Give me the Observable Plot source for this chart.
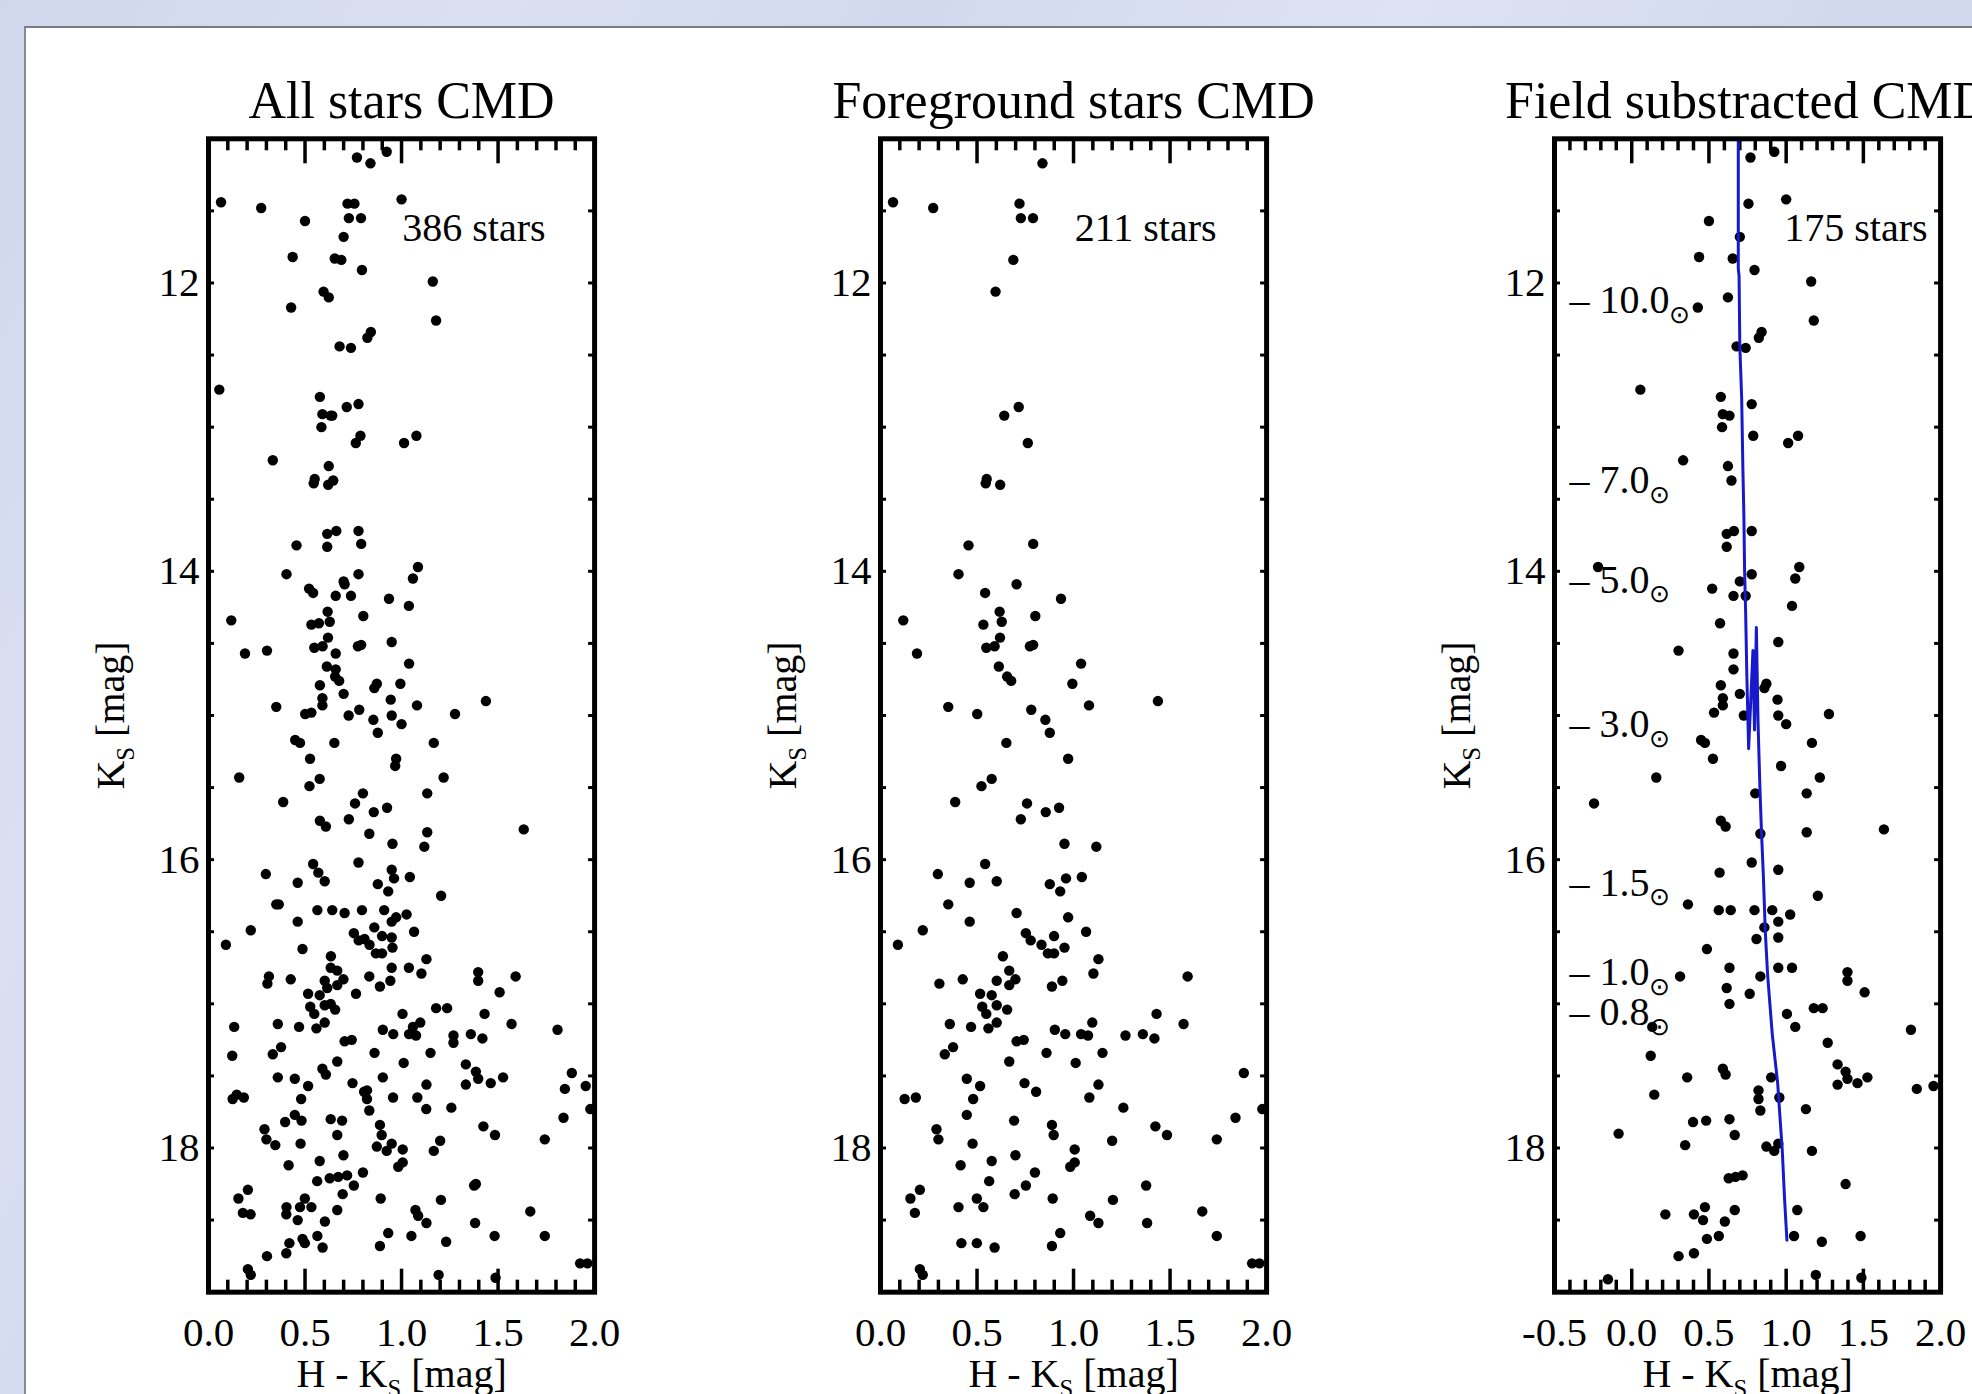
<!DOCTYPE html>
<html><head><meta charset="utf-8">
<script src="https://cdn.jsdelivr.net/npm/d3@7"></script>
<script src="https://cdn.jsdelivr.net/npm/@observablehq/plot@0.6"></script>
<style>
html,body{margin:0;padding:0;}
body{width:1972px;height:1394px;overflow:hidden;position:relative;
 background:linear-gradient(118deg,#d0d7ec 0%,#dae0f1 18%,#d2d9ee 34%,#dde3f3 52%,#d1d8ed 70%,#d9dff1 86%,#d2d9ee 100%);}
#sheet{position:absolute;left:24px;top:26px;width:1990px;height:1400px;background:#fff;border-top:2px solid #767b87;border-left:2px solid #858a96;}
.panel{position:absolute;top:40px;}
</style></head><body>
<div id="sheet"></div>
<div id="p1" class="panel"></div>
<div id="p2" class="panel"></div>
<div id="p3" class="panel"></div>
<script>
// ---------- data (H-Ks colour, Ks magnitude) ----------
// foreground stars (middle panel)
const fgHK = [0.839,0.065,0.273,0.72,0.727,0.79,0.688,0.596,0.716,0.641,0.763,0.55,0.545,0.62,
0.456,0.791,0.404,0.705,0.542,0.935,0.617,0.802,0.118,0.533,0.628,0.619,0.548,0.591,0.774,0.791,0.189,1.039,0.613,0.656,0.677,0.994,0.351,1.08,1.437,0.501,0.781,0.854,0.877,0.652,0.972,0.576,0.523,0.387,0.759,0.856,0.925,0.727,0.953,1.118,0.542,0.297,0.462,0.602,0.877,0.961,1.043,0.931,0.351,0.705,0.972,0.462,0.219,0.753,0.899,1.065,0.09,0.778,0.834,0.953,
0.867,0.899,0.634,1.129,0.305,0.426,0.602,0.667,0.699,0.667,0.888,0.942,1.103,1.591,0.516,0.576,0.527,0.548,0.602,0.656,0.359,0.469,0.559,0.602,0.903,0.957,1.039,1.075,1.097,1.269,1.359,1.419,1.43,1.57,0.705,0.742,0.333,0.376,0.86,1.15,0.667,1.011,0.447,0.516,0.746,0.806,1.129,1.882,0.125,0.183,0.48,1.082,1.258,0.447,0.692,0.888,0.897,1.424,1.484,1.839,1.978,0.29,0.30,0.477,1.2,1.742,1.006,0.699,0.576,0.415,0.983,1.006,0.8,0.563,0.753,1.376,0.204,0.155,0.499,0.695,0.892,1.204,0.178,0.404,0.533,1.667,1.086,1.129,1.381,0.931,1.742,0.419,0.499,0.591,0.888,0.204,0.219,1.925,1.963];
const fgKs = [11.17,11.44,11.48,11.45,11.55,11.55,11.84,12.06,12.86,12.92,13.11,13.36,13.39,13.40,
13.82,13.81,14.02,14.09,14.15,14.19,14.28,14.31,14.34,14.37,14.35,14.46,14.53,14.52,14.52,14.51,14.57,14.64,14.66,14.73,14.76,14.78,14.94,14.93,14.90,14.99,14.96,15.03,15.12,15.19,15.30,15.44,15.49,15.60,15.61,15.67,15.64,15.72,15.89,15.91,16.03,16.10,16.16,16.15,16.17,16.13,16.12,16.22,16.31,16.37,16.40,16.43,16.49,16.51,16.53,16.50,16.59,16.56,16.59,16.61,
16.65,16.65,16.67,16.69,16.86,16.83,16.84,16.77,16.83,16.87,16.88,16.84,16.79,16.81,16.93,16.94,17.02,17.07,17.01,17.04,17.14,17.16,17.17,17.13,17.18,17.21,17.21,17.22,17.13,17.22,17.21,17.24,17.07,17.14,17.26,17.25,17.35,17.30,17.34,17.34,17.40,17.41,17.52,17.57,17.55,17.61,17.56,17.48,17.66,17.65,17.66,17.65,17.72,17.77,17.81,17.84,17.91,17.85,17.91,17.79,17.73,17.87,17.94,17.97,17.95,17.94,18.01,18.05,18.09,18.12,18.13,18.10,18.17,18.23,18.26,18.26,18.29,18.35,18.35,18.32,18.35,18.36,18.45,18.41,18.41,18.44,18.47,18.52,18.52,18.59,18.61,18.66,18.66,18.69,18.68,18.84,18.88,18.80,18.80];
// field-subtracted (cluster) stars, right panel
const clHK = [0.769,0.923,0.756,1.0,0.5,0.7,0.436,0.654,0.795,1.162,0.623,0.428,1.179,0.841,0.823,0.679,0.738,0.056,0.577,0.777,0.59,0.633,0.585,0.787,1.013,1.077,0.333,0.623,0.646,
0.615,0.662,0.615,0.777,-0.218,0.777,0.7,1.085,1.059,0.521,0.659,0.738,1.038,0.572,0.949,0.303,0.659,0.659,0.577,0.872,0.859,0.7,0.59,0.59,0.944,0.533,0.726,0.949,1.0,1.277,0.449,0.474,0.526,1.167,0.967,0.159,1.218,0.8,1.133,-0.244,0.577,0.608,0.833,1.133,1.633,0.777,0.949,0.569,1.205,0.364,0.564,0.641,0.795,0.91,1.026,0.949,0.859,0.808,0.949,0.487,
0.949,1.038,0.313,0.633,0.833,0.615,0.764,1.397,1.397,1.508,0.633,1.005,1.179,1.236,0.133,1.059,1.808,1.269,0.123,0.359,0.59,0.608,0.903,1.333,1.385,1.397,1.333,1.462,1.526,1.846,1.954,0.146,0.821,0.821,0.956,0.833,1.128,0.397,0.482,0.633,-0.085,0.667,0.346,0.872,0.923,0.949,1.167,0.628,0.672,0.718,1.385,0.218,0.403,0.474,0.462,0.667,1.072,0.603,0.487,0.564,1.051,1.231,1.482,0.303,0.403,-0.154,1.192,1.487];
const clKs = [11.13,11.09,11.45,11.42,11.57,11.68,11.82,11.83,11.91,11.99,12.10,12.17,12.26,12.34,12.38,12.44,12.45,12.74,12.79,12.84,12.91,12.92,13.0,13.06,13.11,13.06,13.23,13.27,13.37,
13.74,13.72,13.83,13.72,13.97,14.02,14.07,13.97,14.05,14.12,14.17,14.17,14.24,14.36,14.49,14.55,14.57,14.68,14.79,14.78,14.81,14.85,14.88,14.93,14.89,14.98,15.0,15.0,15.06,14.99,15.17,15.19,15.30,15.19,15.35,15.43,15.43,15.54,15.54,15.61,15.73,15.77,15.82,15.81,15.79,16.02,16.07,16.09,16.25,16.31,16.35,16.35,16.35,16.35,16.38,16.43,16.47,16.55,16.54,16.62,
16.75,16.75,16.81,16.75,16.81,16.89,16.93,16.78,16.84,16.92,17.0,17.07,17.03,17.03,17.16,17.16,17.18,17.27,17.36,17.51,17.45,17.49,17.51,17.42,17.47,17.52,17.56,17.55,17.51,17.59,17.57,17.63,17.60,17.66,17.65,17.74,17.73,17.82,17.81,17.80,17.90,17.91,17.98,17.99,18.02,17.97,18.02,18.21,18.20,18.19,18.25,18.46,18.46,18.41,18.50,18.43,18.43,18.51,18.63,18.61,18.61,18.65,18.61,18.75,18.73,18.91,18.88,18.90];
// isochrone
const isoHK = [0.69,0.69,0.695,0.70,0.712,0.72,0.726,0.731,0.738,0.745,0.757,0.785,0.795,0.807,0.818,0.83,0.84,0.852,0.865,0.88,0.91,0.945,0.975,0.99,1.005];
const isoKs = [11.0,11.9,11.95,12.44,12.8,13.3,13.6,14.0,14.3,14.7,15.23,14.55,15.1,14.39,15.05,15.5,15.8,16.1,16.5,16.8,17.21,17.55,18.02,18.36,18.64];
// masses along the isochrone
const massLabels = ["10.0","7.0","5.0","3.0","1.5","1.0","0.8"];
const massKs = [12.12,13.37,14.06,15.06,16.16,16.78,17.06];
// text
const titles = ["All stars CMD","Foreground stars CMD","Field substracted CMD"];
const countLabels = ["386 stars","211 stars","175 stars"];
const yTickValues = [12,14,16,18];
const xTicksA = [0.0,0.5,1.0,1.5,2.0];
const xTicksB = [-0.5,0.0,0.5,1.0,1.5,2.0];
const yLabel = "K{S} [mag]";
const xLabel = "H - K{S} [mag]";

const FONT = "'Liberation Serif', 'Times New Roman', serif";
const W = 386.1, H = 1153.4, mL = 150, mT = 98.3, mB = 102.3;

function subscripts(svg, base) {
  d3.select(svg).selectAll("text").each(function() {
    const s = this.textContent;
    if (!s.includes("{")) return;
    const parts = s.split(/\{([^}]*)\}/);
    const t = d3.select(this); t.text(null);
    let shifted = false;
    parts.forEach((p, i) => {
      if (!p) return;
      if (i % 2) {
        t.append("tspan").attr("font-size", base * 0.62).attr("dy", base * 0.24).text(p);
        shifted = true;
      } else {
        const sp = t.append("tspan").text(p);
        if (shifted) { sp.attr("dy", -base * 0.24); shifted = false; }
      }
    });
  });
}

function panel({el, frameLeft, xDomain, xMajor, hk, ks, title, count, countDx, mR, extra = []}) {
  const lo = Math.round(xDomain[0] * 10), hi = Math.round(xDomain[1] * 10);
  const xMinor = d3.range(lo, hi + 1).filter(i => i % 5 !== 0).map(i => i / 10);
  const yMinor = d3.range(22, 39).map(i => i / 2);
  const tw = 3.5;
  const txt = {fill: "black", fontFamily: FONT};
  const svg = Plot.plot({
    width: mL + W + mR, height: mT + H + mB,
    marginLeft: mL, marginRight: mR, marginTop: mT, marginBottom: mB,
    x: {domain: xDomain, axis: null},
    y: {domain: [11, 19], reverse: true, axis: null},
    style: {background: "transparent", maxWidth: "none", overflow: "visible", fontFamily: FONT},
    marks: [
      Plot.ruleX(xMinor, {x: d => d, insetBottom: H - 12, strokeWidth: tw, stroke: "black"}),
      Plot.ruleX(xMajor, {x: d => d, insetBottom: H - 25, strokeWidth: tw, stroke: "black"}),
      Plot.ruleX(xMinor, {x: d => d, insetTop: H - 12, strokeWidth: tw, stroke: "black"}),
      Plot.ruleX(xMajor, {x: d => d, insetTop: H - 23, strokeWidth: tw, stroke: "black"}),
      Plot.ruleY(yMinor, {y: d => d, insetRight: W - 6, strokeWidth: 3, stroke: "black"}),
      Plot.ruleY(yMinor, {y: d => d, insetLeft: W - 6, strokeWidth: 3, stroke: "black"}),
      Plot.dot(d3.range(hk.length), {x: i => hk[i], y: i => ks[i], r: 5.2, fill: "black", clip: true}),
      ...extra,
      Plot.frame({stroke: "black", strokeWidth: 5}),
      Plot.text([title], {frameAnchor: "top", lineAnchor: "bottom", dy: -21, fontSize: 52, ...txt}),
      Plot.text([count], {frameAnchor: "top-right", textAnchor: "end", lineAnchor: "middle", dx: countDx, dy: 89, fontSize: 40, ...txt}),
      Plot.text(xMajor, {x: d => d, text: d => d.toFixed(1), frameAnchor: "bottom", lineAnchor: "bottom", dy: 54, fontSize: 41, ...txt}),
      Plot.text(yTickValues, {y: d => d, text: d => String(d), frameAnchor: "left", textAnchor: "end", lineAnchor: "middle", dx: -9, fontSize: 41, ...txt}),
      Plot.text([yLabel], {frameAnchor: "left", rotate: -90, dx: -97, lineAnchor: "middle", textAnchor: "middle", fontSize: 40, ...txt}),
      Plot.text([xLabel], {frameAnchor: "bottom", lineAnchor: "bottom", dy: 95, fontSize: 40, ...txt})
    ]
  });
  subscripts(svg, 40);
  const div = document.getElementById(el);
  div.style.left = (frameLeft - mL) + "px";
  div.appendChild(svg);
}

const allHK = fgHK.concat(clHK), allKs = fgKs.concat(clKs);

panel({el: "p1", frameLeft: 207.5, xDomain: [0, 2], xMajor: xTicksA, hk: allHK, ks: allKs,
  title: titles[0], count: countLabels[0], countDx: -49, mR: 40});
panel({el: "p2", frameLeft: 880.4, xDomain: [0, 2], xMajor: xTicksA, hk: fgHK, ks: fgKs,
  title: titles[1], count: countLabels[1], countDx: -50, mR: 40});
panel({el: "p3", frameLeft: 1553.5, xDomain: [-0.5, 2], xMajor: xTicksB, hk: clHK, ks: clKs,
  title: titles[2], count: countLabels[2], countDx: -13, mR: 300,
  extra: [
    Plot.line(d3.range(isoHK.length), {x: i => isoHK[i], y: i => isoKs[i], stroke: "#1818cc", strokeWidth: 3, clip: true}),
    Plot.text(massLabels, {y: (d, i) => massKs[i], text: d => "\u2013 " + d + "{\u2299}", frameAnchor: "left", textAnchor: "start", lineAnchor: "middle", dx: 15, fontSize: 40, fill: "black", fontFamily: FONT})
  ]});
</script>
</body></html>
